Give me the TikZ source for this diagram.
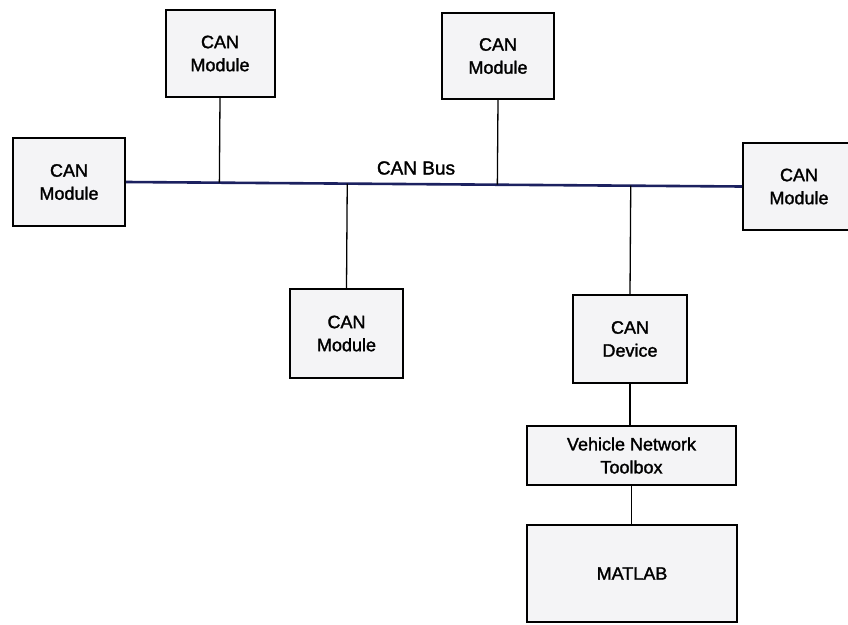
\documentclass[tikz,border=0pt]{standalone}
\usepackage{fontspec}
\setmainfont{Liberation Sans}[FakeBold=1.6]
\usetikzlibrary{calc}
\definecolor{boxfill}{HTML}{F4F4F6}
\definecolor{busblue}{HTML}{1C2160}
\begin{document}
\begin{tikzpicture}[x=1pt,y=-1pt,
  box/.style={draw=black, line width=2pt, fill=boxfill, inner sep=0pt,
    align=center, font=\fontsize{18}{23}\selectfont},
  conn/.style={draw=black, line width=1.3pt},
  bus/.style={draw=busblue, line width=2.6pt}]
\useasboundingbox (0,0) rectangle (848,624);
\clip (0,0) rectangle (848,624);
\fill[white] (0,0) rectangle (848,624);
\node[box, minimum width=109pt, minimum height=87pt] (TL) at (220,53.5) {CAN\\Module};
\node[box, minimum width=112pt, minimum height=86pt] (TM) at (498,56) {CAN\\Module};
\node[box, minimum width=112pt, minimum height=88pt] (L) at (69,182) {CAN\\Module};
\node[box, minimum width=112pt, minimum height=87pt] (R) at (799,186.5) {CAN\\Module};
\node[box, minimum width=113pt, minimum height=89pt] (LM) at (346.5,333.5) {CAN\\Module};
\node[box, minimum width=114pt, minimum height=88pt] (DEV) at (630,339) {CAN\\Device};
\node[box, minimum width=209pt, minimum height=59pt] (VNT) at (631.5,455.5) {Vehicle Network\\Toolbox};
\node[box, minimum width=210pt, minimum height=97pt] (ML) at (632,573.5) {MATLAB};
\draw[bus] (L.east) -- (R.west);
\node[font=\fontsize{19}{23}\selectfont, inner sep=0pt] (busl) at (416,168) {CAN Bus};
\coordinate (b1) at ($(L.east)!(TL.south)!(R.west)$);
\coordinate (b2) at ($(L.east)!(TM.south)!(R.west)$);
\coordinate (b3) at ($(L.east)!(LM.north)!(R.west)$);
\coordinate (b4) at ($(L.east)!(DEV.north)!(R.west)$);
\draw[conn] (TL.south) -- (b1);
\draw[conn] (TM.south) -- (b2);
\draw[conn] (b3) -- (LM.north);
\draw[conn] (b4) -- (DEV.north);
\draw[conn] (DEV.south) -- (DEV.south |- VNT.north);
\draw[conn] (VNT.south) -- (VNT.south |- ML.north);
\end{tikzpicture}
\end{document}
